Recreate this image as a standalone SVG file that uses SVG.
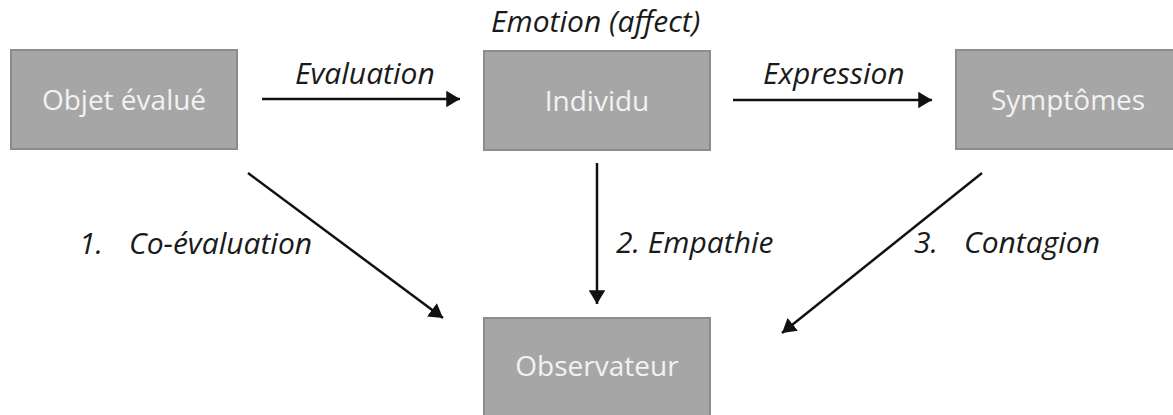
<svg xmlns="http://www.w3.org/2000/svg" width="1173" height="415" viewBox="0 0 1173 415">
<style>
.box{fill:#a6a6a6;stroke:#8c8c8c;stroke-width:2}
.bt{font-family:"Open Sans","Noto Sans",sans-serif;font-size:28px;fill:#f2f2f2;text-anchor:middle}
.lb{font-family:"Open Sans","Noto Sans",sans-serif;font-size:30px;font-style:italic;fill:#1a1a1a}
.ar{stroke:#111;stroke-width:2.5;fill:none;marker-end:url(#ah)}
</style>
<defs>
<marker id="ah" viewBox="0 0 10 12" refX="10" refY="6" markerWidth="5.6" markerHeight="6.6" orient="auto" markerUnits="strokeWidth">
<path d="M0,0 L10,6 L0,12 z" fill="#111"/>
</marker>
</defs>
<rect width="1173" height="415" fill="#fff"/>
<g id="objet"><rect class="box" x="11" y="50" width="226" height="99"/><text class="bt" x="124" y="110">Objet évalué</text></g>
<g id="individu"><rect class="box" x="484" y="51" width="226" height="99"/><text class="bt" x="597" y="111">Individu</text></g>
<g id="symptomes"><rect class="box" x="956" y="50" width="226" height="99"/><text class="bt" x="1068" y="110">Symptômes</text></g>
<g id="observateur"><rect class="box" x="484" y="318" width="226" height="99"/><text class="bt" x="597" y="376">Observateur</text></g>
<g id="connectors">
<line class="ar" x1="262" y1="99" x2="460" y2="99"/>
<line class="ar" x1="733" y1="100" x2="932" y2="100"/>
<line class="ar" x1="597" y1="163" x2="597" y2="304"/>
<line class="ar" x1="248" y1="173" x2="443" y2="318"/>
<line class="ar" x1="982" y1="173" x2="782" y2="333"/>
</g>
<g id="labels">
<text class="lb" x="491" y="32">Emotion (affect)</text>
<text class="lb" x="295" y="84">Evaluation</text>
<text class="lb" x="763" y="84">Expression</text>
<text class="lb" x="79" y="254">1.</text>
<text class="lb" x="129" y="254">Co-évaluation</text>
<text class="lb" x="616" y="253">2. Empathie</text>
<text class="lb" x="914" y="253">3.</text>
<text class="lb" x="964" y="253">Contagion</text>
</g>
</svg>
